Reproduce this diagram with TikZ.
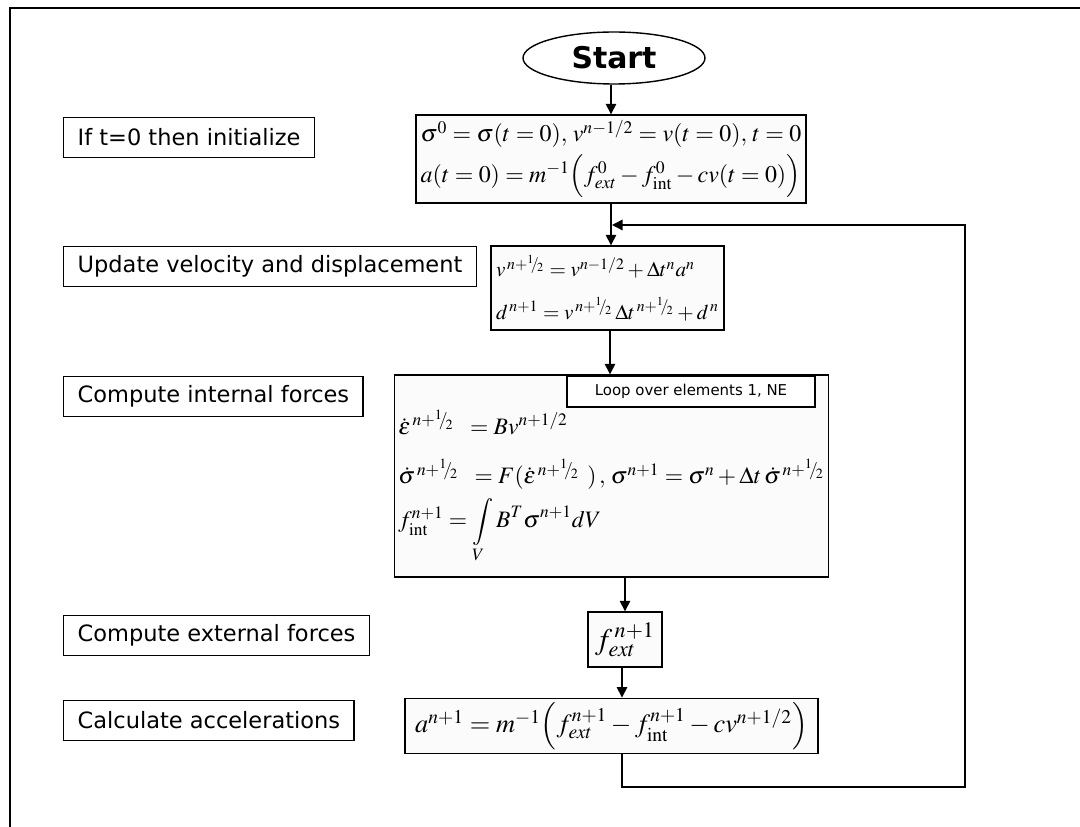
\documentclass[tikz,border=0pt]{standalone}
\usepackage{amsmath}
\usepackage{mathptmx}
\usepackage[no-math]{fontspec}
\newfontfamily\labelfont{DejaVu Sans}
\usepackage{tikz}
\usetikzlibrary{arrows.meta,shapes.geometric}

\newcommand{\half}{{}^{1}\!\!/\!_{2}}

\tikzset{
  stepname/.style={draw, line width=0.8pt, anchor=west, inner xsep=0.28cm,
    minimum height=0.8cm, font=\labelfont\fontsize{12.8}{15}\selectfont},
  eqbox/.style={draw, line width=0.8pt, fill=gray!3, align=left, inner sep=0.08cm},
}

\begin{document}
\begin{tikzpicture}[x=0.02cm, y=-0.02cm, line width=0.8pt, >={Triangle[length=6pt,width=6pt]}]
    \useasboundingbox (0,0) rectangle (1080,827);
    \draw (10,827) -- (10,8) -- (1080,8);
    % start and the equation boxes
    \node[draw, ellipse, minimum width=3.64cm, minimum height=1.04cm,
          font=\labelfont\bfseries\fontsize{17}{20}\selectfont] (start) at (614,58) {Start};
    \node[eqbox, minimum width=7.8cm, minimum height=1.76cm, font=\fontsize{13.6}{21}\selectfont] (init) at (611,159)
      {$\sigma^{0} = \sigma(t=0),\, v^{n-1/2} = v(t=0),\, t=0$\\[2pt]
       $a(t=0) = m^{-1}\Bigl(f^{0}_{ext} - f^{0}_{\mathrm{int}} - cv(t=0)\Bigr)$};
    \node[eqbox, minimum width=4.66cm, minimum height=1.68cm, font=\fontsize{12}{20}\selectfont] (upd) at (607.5,288)
      {$v^{\,n+\half} = v^{n-1/2} + \Delta t^{n} a^{n}$\\[4pt]
       $d^{\,n+1} = v^{\,n+\half}\,\Delta t^{\,n+\half} + d^{\,n}$};
    \node[eqbox, minimum width=8.62cm, minimum height=4.04cm, font=\fontsize{13.4}{20}\selectfont] (intf) at (611.5,476)
      {\\[6pt]
       $\dot{\varepsilon}^{\,n+\half} \;\; = Bv^{n+1/2}$\\[8pt]
       $\dot{\sigma}^{\,n+\half} \;\; = F(\dot{\varepsilon}^{\,n+\half}\ )\,,\, \sigma^{n+1} = \sigma^{n} + \Delta t\,\dot{\sigma}^{\,n+\half}$\\[4pt]
       $f^{n+1}_{\mathrm{int}} = \displaystyle\int\limits_{V} B^{T}\sigma^{n+1} dV$};
    \node[draw, fill=white, line width=0.8pt, minimum width=4.96cm, minimum height=0.62cm,
          font=\labelfont\fontsize{8.5}{10}\selectfont] (loop) at (691,391.5) {Loop over elements 1, NE};
    \node[eqbox, minimum width=1.48cm, minimum height=1.1cm, font=\fontsize{17}{20}\selectfont] (fext) at (625,639.5)
      {$f^{\,n+1}_{ext}$};
    \node[eqbox, minimum width=8.26cm, minimum height=1.04cm, font=\fontsize{15}{20}\selectfont] (acc) at (611.5,726)
      {$a^{n+1} = m^{-1}\Bigl(f^{n+1}_{ext} - f^{n+1}_{\mathrm{int}} - cv^{n+1/2}\Bigr)$};
    % step names on the left
    \node[stepname] (s1) at (63,137.5) {If t=0 then initialize};
    \node[stepname] (s2) at (63,266.5) {Update velocity and displacement};
    \node[stepname] (s3) at (63,396.5) {Compute internal forces};
    \node[stepname] (s4) at (63,635.5) {Compute external forces};
    \node[stepname] (s5) at (63,720.5) {Calculate accelerations};
    % flow
    \draw[->] (start.south -| init) -- (init.north);
    \draw[->] (init.south) -- (init.south |- upd.north);
    \draw[->] (upd.south -| 610,0) -- (intf.north -| 610,0);
    \draw[->] (fext.north |- intf.south) -- (fext.north);
    \draw[->] (fext.south -| 622,0) -- (acc.north -| 622,0);
    % back to the velocity update
    \coordinate (backR) at (965,787);
    \coordinate (join) at (612,225);
    \draw[->] (acc.south -| 622,0) |- (backR) |- (join);
\end{tikzpicture}
\end{document}
